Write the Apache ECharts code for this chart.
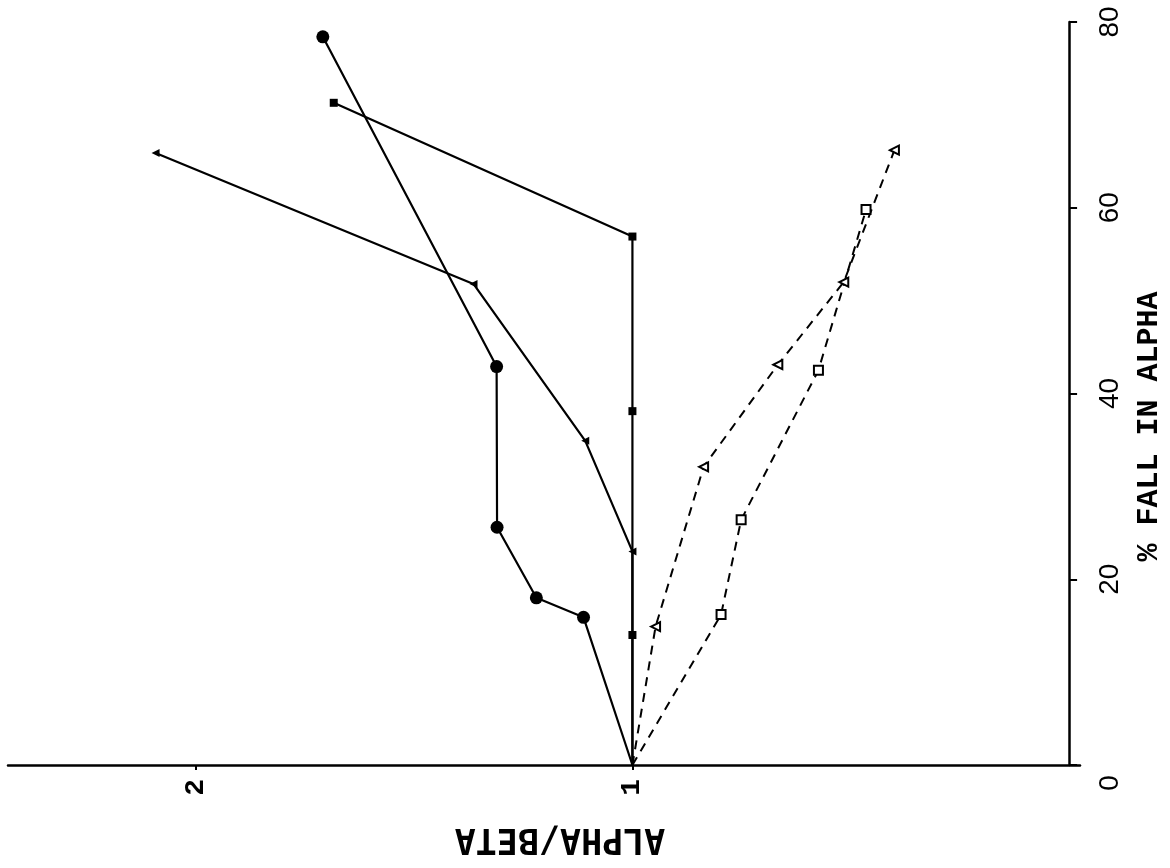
<!DOCTYPE html>
<html>
<head>
<meta charset="utf-8">
<script src="https://cdn.jsdelivr.net/npm/echarts@6/dist/echarts.min.js"></script>
<style>html,body{margin:0;padding:0;background:#fff;}#c{width:1170px;height:868px;}</style>
</head>
<body>
<div id="c"></div>
<script>
// % fall in alpha (vertical axis) and alpha/beta ratio (horizontal axis, increasing to the left)
const circleFall  = [0, 15.9, 18.0, 25.6, 42.9, 78.4];
const circleRatio = [1, 1.112, 1.220, 1.310, 1.311, 1.709];

const squareFall  = [0, 14.0, 38.1, 56.9, 71.3];
const squareRatio = [1, 1, 1, 1, 1.684];

const triFall  = [0, 23.0, 34.9, 51.8, 65.9];
const triRatio = [1, 1, 1.108, 1.364, 2.092];

const openTriFall  = [0, 14.9, 32.1, 43.1, 52.0, 66.2];
const openTriRatio = [1, 0.947, 0.837, 0.667, 0.516, 0.400];

const openSqFall  = [0, 16.2, 26.4, 42.5, 59.8];
const openSqRatio = [1, 0.797, 0.751, 0.574, 0.465];

const fallTicks  = [0, 20, 40, 60, 80];
const ratioTicks = [1, 2];

// the common origin point carries no marker in the original
function pairs(r, f) {
  return r.map((v, i) => i === 0 ? {value: [v, f[i]], symbol: 'none'} : [v, f[i]]);
}

const chart = echarts.init(document.getElementById('c'), null, {renderer: 'canvas'});
const solid = {color: '#000', width: 2.2, type: 'solid'};
const dashed = {color: '#000', width: 2, type: [9, 7]};
const filled = {color: '#000'};
const hollow = {color: '#fff', borderColor: '#000', borderWidth: 2};

chart.setOption({
  animation: false,
  backgroundColor: '#fff',
  grid: {left: 8, right: 90, top: 22, bottom: 103, containLabel: false, outerBoundsMode: 'none'},
  xAxis: {
    type: 'value', inverse: true, min: -0.025, max: 2.43,
    splitLine: {show: false},
    axisLine: {lineStyle: {color: '#000', width: 2.5}},
    axisTick: {customValues: ratioTicks, length: 5, lineStyle: {color: '#000', width: 2}},
    axisLabel: {customValues: ratioTicks, rotate: 90, margin: 14, color: '#000',
      fontFamily: 'Liberation Mono', fontWeight: 'bold', fontSize: 28},
    name: 'ALPHA/BETA', nameLocation: 'middle', nameRotate: 180, nameGap: 56,
    nameTextStyle: {color: '#000', fontFamily: 'DejaVu Sans Mono', fontWeight: 'bold', fontSize: 35, padding: [0, 32, 0, 0]}
  },
  yAxis: {
    type: 'value', position: 'right', min: 0, max: 80, interval: 20,
    splitLine: {show: false},
    axisLine: {lineStyle: {color: '#000', width: 2.5}},
    axisTick: {length: 8, lineStyle: {color: '#000', width: 2}},
    axisLabel: {rotate: 90, margin: 16, color: '#000', fontFamily: 'Liberation Sans', fontSize: 28,
      formatter: v => !fallTicks.includes(v) ? '' : (v === 0 ? '{z|0}' : String(v)),
      rich: {z: {fontFamily: 'Liberation Sans', fontSize: 28, color: '#000', padding: [0, 36, 0, 0]}}},
    name: '% FALL IN ALPHA', nameLocation: 'middle', nameRotate: 90, nameGap: 54,
    nameTextStyle: {color: '#000', fontFamily: 'Liberation Mono', fontWeight: 'bold', fontSize: 30, padding: [0, 66, 0, 0]}
  },
  series: [
    {type: 'line', data: pairs(circleRatio, circleFall), symbol: 'circle', symbolSize: 13,
      lineStyle: solid, itemStyle: filled},
    {type: 'line', data: pairs(squareRatio, squareFall), symbol: 'rect', symbolSize: 8,
      lineStyle: solid, itemStyle: filled},
    {type: 'line', data: pairs(triRatio, triFall), symbol: 'triangle', symbolSize: 8, symbolRotate: 90,
      lineStyle: solid, itemStyle: filled},
    {type: 'line', data: pairs(openTriRatio, openTriFall), symbol: 'triangle', symbolSize: 9, symbolRotate: 90,
      lineStyle: dashed, itemStyle: hollow},
    {type: 'line', data: pairs(openSqRatio, openSqFall), symbol: 'rect', symbolSize: 9,
      lineStyle: dashed, itemStyle: hollow}
  ]
});
</script>
</body>
</html>
